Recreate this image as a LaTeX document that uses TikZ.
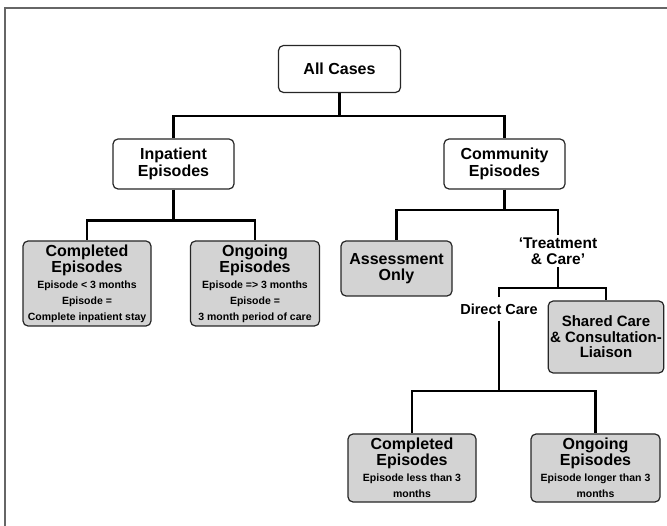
\documentclass[tikz,border=0pt]{standalone}
\usepackage{fontspec}
\setmainfont{Liberation Sans}
\usepackage{xcolor}
\usepackage{tikz}
\usetikzlibrary{positioning,calc}

\newcommand{\headtxt}{\fontsize{16}{16}\selectfont}
\newcommand{\notetxt}{\fontsize{10.5}{16}\selectfont}

\begin{document}
\begin{tikzpicture}[
    x=1pt,
    y=-1pt,
    font=\bfseries,
    link/.style={line width=2.6pt, draw=black},
    frame/.style={line width=1.3pt, draw=black!60},
    whitebox/.style={draw=black!85, fill=white, line width=1.2pt, rounded corners=5pt,
        align=center, inner sep=2pt, font=\bfseries\fontsize{16}{17.5}\selectfont},
    greybox/.style={whitebox, fill=boxGrey, font=\bfseries\headtxt},
    careLabel/.style={align=center, inner sep=2.5pt, font=\bfseries\fontsize{15.5}{16}\selectfont}
]

\definecolor{boxGrey}{HTML}{D3D3D3}

% Page size and outer frame (open at right and bottom)
\useasboundingbox (0,0) rectangle (667,526);
\draw[frame] (667,8) -- (5,8) -- (5,526);

% Top level
\node[whitebox, minimum width=122pt, minimum height=47pt] (all) at (339.5,69) {All Cases};

% Second level
\node[whitebox, minimum width=121pt, minimum height=50pt] (inpat) at (173.5,164) {Inpatient\\Episodes};
\node[whitebox, minimum width=121pt, minimum height=50pt] (comm) at (504.5,164) {Community\\Episodes};

% Inpatient branch
\node[greybox, minimum width=128pt, minimum height=85pt] (inpDone) at (87,283.5)
    {Completed\\Episodes\\\notetxt Episode < 3 months\\\notetxt Episode =\\\notetxt Complete inpatient stay};
\node[greybox, minimum width=129pt, minimum height=85pt] (inpOpen) at (255,283.5)
    {Ongoing\\Episodes\\\notetxt Episode => 3 months\\\notetxt Episode =\\\notetxt 3 month period of care};

% Community branch
\node[greybox, minimum width=111pt, minimum height=55pt] (assess) at (396.5,268.5) {Assessment\\Only};
\node[careLabel] (treat) at (558,251) {‘Treatment\\\& Care’};
\node[careLabel, inner ysep=6pt, font=\bfseries\fontsize{14.5}{16}\selectfont] (direct) at (499,309) {Direct Care};
\node[greybox, minimum width=110pt, minimum height=72pt, font=\bfseries\fontsize{15}{15.5}\selectfont] (shared) at (606,337)
    {Shared Care\\\& Consultation-\\Liaison};

% Direct care episodes
\node[greybox, minimum width=128pt, minimum height=68pt] (comDone) at (412,468)
    {Completed\\Episodes\\\notetxt Episode less than 3\\\notetxt months};
\node[greybox, minimum width=129pt, minimum height=68pt] (comOpen) at (595.5,468)
    {Ongoing\\Episodes\\\notetxt Episode longer than 3\\\notetxt months};

% Split points of the tree
\coordinate (allSplit) at (339.5,116);
\coordinate (inpSplit) at (173.5,220.5);
\coordinate (comSplit) at (504.5,210);
\coordinate (treatSplit) at (558,288);
\coordinate (directSplit) at (499,391);

% Connectors
\draw[link] (all.south) -- (allSplit) -| (inpat.north);
\draw[link] (allSplit) -| (comm.north);

\draw[link] (inpat.south) -- (inpSplit) -| (inpDone.north);
\draw[link] (inpSplit) -| (inpOpen.north);

\draw[link] (comm.south) -- (comSplit) -| (assess.north);
\draw[link] (comSplit) -| (treat.north);

\draw[link] (treat.south) -- (treatSplit) -| (direct.north);
\draw[link] (treatSplit) -| (shared.north);

\draw[link] (direct.south) -- (directSplit) -| (comDone.north);
\draw[link] (directSplit) -| (comOpen.north);

\end{tikzpicture}
\end{document}
